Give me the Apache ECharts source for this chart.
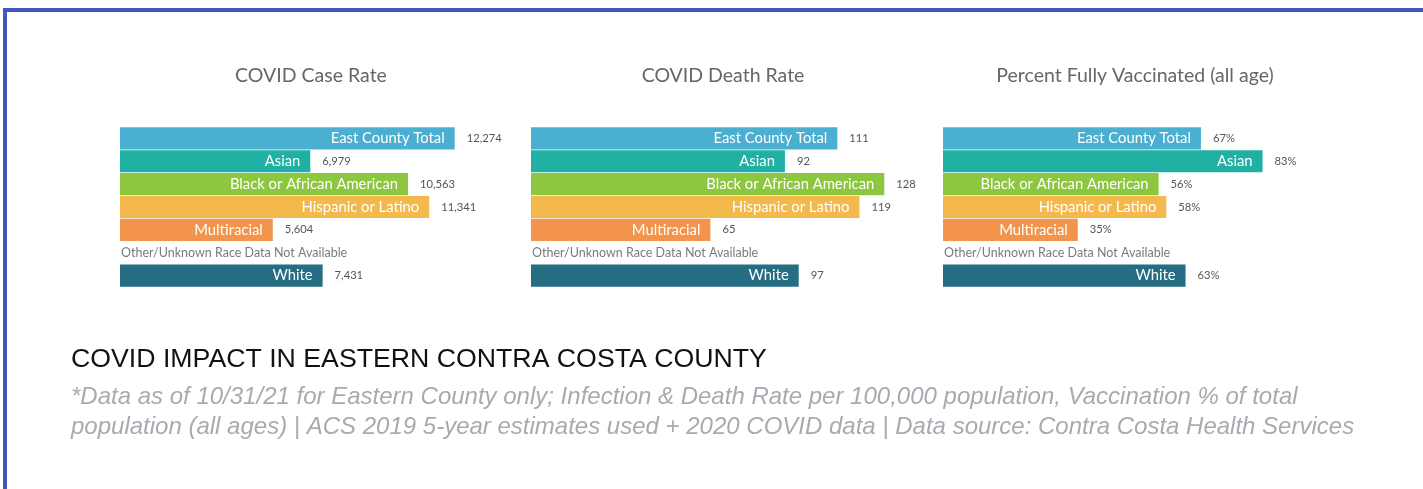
<!DOCTYPE html>
<html>
<head>
<meta charset="utf-8">
<title>COVID Impact in Eastern Contra Costa County</title>
<script src="https://cdn.jsdelivr.net/npm/echarts@6/dist/echarts.min.js"></script>
<style>
  html, body { margin: 0; padding: 0; background: #ffffff; }
  #chart { width: 1423px; height: 489px; }
</style>
</head>
<body>
<div id="chart"></div>
<script>
// Race / ethnicity groups, top to bottom (the "Other" row has no data)
const categories = [
  'East County Total',
  'Asian',
  'Black or African American',
  'Hispanic or Latino',
  'Multiracial',
  'Other/Unknown Race Data Not Available',
  'White'
];

// Cases per 100,000 population
const caseRate = [12274, 6979, 10563, 11341, 5604, null, 7431];
// Deaths per 100,000 population
const deathRate = [111, 92, 128, 119, 65, null, 97];
// Percent of total population fully vaccinated
const vaccinatedPct = [67, 83, 56, 58, 35, null, 63];

const barColors = ['#4bafd2', '#20b0a4', '#8dc63f', '#f3b94c', '#f2944b', '#cccccc', '#246d82'];

const panelTitles = ['COVID Case Rate', 'COVID Death Rate', 'Percent Fully Vaccinated (all age)'];

const footerTitle = 'COVID IMPACT IN EASTERN CONTRA COSTA COUNTY';
const footerNote = [
  '*Data as of 10/31/21 for Eastern County only; Infection & Death Rate per 100,000 population, Vaccination % of total',
  'population (all ages) | ACS 2019 5-year estimates used + 2020 COVID data | Data source: Contra Costa Health Services'
];

const panels = [
  { values: caseRate, max: 15000, left: 120, width: 409, titleX: 311, fmt: v => v.toLocaleString('en-US') },
  { values: deathRate, max: 150, left: 531, width: 414, titleX: 723, fmt: v => String(v) },
  { values: vaccinatedPct, max: 100, left: 943, width: 385, titleX: 1135, fmt: v => v + '%' }
];

const FONT = 'Lato, "Open Sans", sans-serif';
const OTHER = categories[5];

const grids = [], xAxes = [], yAxes = [], series = [], titles = [];

panels.forEach((p, i) => {
  grids.push({ left: p.left, top: 127, width: p.width, height: 160, containLabel: false });
  xAxes.push({ type: 'value', gridIndex: i, min: 0, max: p.max, show: false });
  yAxes.push({
    type: 'category', gridIndex: i, data: categories, inverse: true,
    axisLine: { show: false }, axisTick: { show: false }, splitLine: { show: false },
    axisLabel: {
      show: true, inside: true, margin: 1,
      fontFamily: FONT, fontSize: 12.5, color: '#7a7a7a',
      padding: [14, 0, 0, 0],
      formatter: v => (v === OTHER ? v : '')
    }
  });
  const data = p.values.map((v, k) => ({ value: v, itemStyle: { color: barColors[k] } }));
  // coloured bars carrying the group name inside
  series.push({
    type: 'bar', xAxisIndex: i, yAxisIndex: i, data: data,
    barCategoryGap: '3%', barGap: '-100%', silent: true, animation: false,
    label: {
      show: true, position: 'insideRight', distance: 10,
      fontFamily: FONT, fontSize: 14.8, color: '#ffffff',
      formatter: prm => prm.name
    }
  });
  // value labels just past each bar end
  series.push({
    type: 'bar', xAxisIndex: i, yAxisIndex: i,
    data: p.values.map(v => ({ value: v })),
    barCategoryGap: '3%', barGap: '-100%', silent: true, animation: false,
    itemStyle: { color: 'rgba(0,0,0,0)' },
    label: {
      show: true, position: 'right', distance: 12,
      fontFamily: FONT, fontSize: 11.2, color: '#555555',
      formatter: prm => p.fmt(prm.value)
    }
  });
  titles.push({
    text: panelTitles[i], left: p.titleX, top: 66, textAlign: 'center', padding: 0,
    textStyle: { fontFamily: FONT, fontSize: 19.5, fontWeight: 'normal', color: '#666666' }
  });
});

titles.push({
  text: footerTitle, left: 71, top: 346, padding: 0,
  textStyle: { fontFamily: '"Liberation Sans", Arial, sans-serif', fontSize: 26.7, fontWeight: 'normal', color: '#111111' }
});
titles.push({
  text: footerNote.join('\n'), left: 71, top: 382, padding: 0,
  textStyle: {
    fontFamily: '"Liberation Sans", Arial, sans-serif', fontSize: 24, fontStyle: 'italic',
    fontWeight: 'normal', color: '#a7aab0', lineHeight: 30
  }
});

const chart = echarts.init(document.getElementById('chart'), null, { renderer: 'canvas' });
chart.setOption({
  backgroundColor: '#ffffff',
  animation: false,
  title: titles,
  grid: grids,
  xAxis: xAxes,
  yAxis: yAxes,
  series: series,
  graphic: [{
    type: 'rect', silent: true, z: 100,
    shape: { x: 5, y: 10, width: 1500, height: 600 },
    style: { fill: 'none', stroke: '#4455c1', lineWidth: 4 }
  }]
});
</script>
</body>
</html>
